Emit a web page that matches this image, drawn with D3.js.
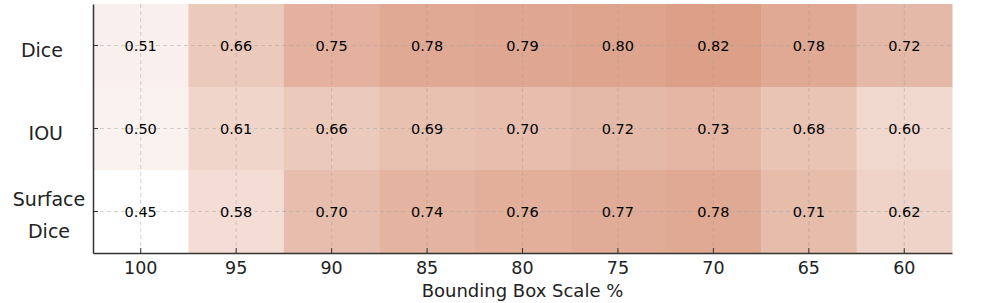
<!DOCTYPE html>
<html>
<head>
<meta charset="utf-8">
<script src="https://cdn.jsdelivr.net/npm/d3@7"></script>
<style>
  body { margin: 0; background: #fff; }
  text { font-family: "DejaVu Sans", sans-serif; }
</style>
</head>
<body>
<svg id="chart" width="996" height="303"></svg>
<script>
// data
const scales = ["100", "95", "90", "85", "80", "75", "70", "65", "60"];
const metrics = ["Dice", "IOU", "Surface Dice"];
const dice = [0.51, 0.66, 0.75, 0.78, 0.79, 0.80, 0.82, 0.78, 0.72];
const iou = [0.50, 0.61, 0.66, 0.69, 0.70, 0.72, 0.73, 0.68, 0.60];
const surfaceDice = [0.45, 0.58, 0.70, 0.74, 0.76, 0.77, 0.78, 0.71, 0.62];
const rows = [dice, iou, surfaceDice];

const svg = d3.select("#chart");
const plotL = 93, plotR = 952, plotT = 4, plotB = 253;

const x = d3.scaleBand().domain(scales).range([plotL, plotR]);
const y = d3.scaleBand().domain(metrics).range([plotT, plotB]);

const allVals = rows.flat();
const color = d3.scaleLinear()
  .domain([d3.min(allVals), d3.max(allVals)])
  .range(["#ffffff", "#dc9f87"]);

const cells = [];
rows.forEach((vals, i) => {
  vals.forEach((v, j) => cells.push({ metric: metrics[i], scale: scales[j], value: v }));
});

// heatmap cells
svg.append("g")
  .selectAll("rect")
  .data(cells)
  .join("rect")
  .attr("x", d => x(d.scale))
  .attr("y", d => y(d.metric))
  .attr("width", x.bandwidth() + 0.5)
  .attr("height", y.bandwidth() + 0.5)
  .attr("fill", d => color(d.value));

// dashed grid on top
const grid = svg.append("g")
  .attr("stroke", "#a0a0a0")
  .attr("stroke-opacity", 0.45)
  .attr("stroke-width", 1)
  .attr("stroke-dasharray", "4,3");
grid.selectAll("line.v")
  .data(scales)
  .join("line")
  .attr("class", "v")
  .attr("x1", d => x(d) + x.bandwidth() / 2)
  .attr("x2", d => x(d) + x.bandwidth() / 2)
  .attr("y1", plotT)
  .attr("y2", plotB);
grid.selectAll("line.h")
  .data(metrics)
  .join("line")
  .attr("class", "h")
  .attr("x1", plotL)
  .attr("x2", plotR)
  .attr("y1", d => y(d) + y.bandwidth() / 2)
  .attr("y2", d => y(d) + y.bandwidth() / 2);

// value annotations
svg.append("g")
  .selectAll("text")
  .data(cells)
  .join("text")
  .attr("x", d => x(d.scale) + x.bandwidth() / 2)
  .attr("y", d => y(d.metric) + y.bandwidth() / 2)
  .attr("dy", "0.36em")
  .attr("text-anchor", "middle")
  .attr("font-size", 14.5)
  .attr("fill", "#000")
  .text(d => d.value.toFixed(2));

// axes
const xAxis = svg.append("g")
  .attr("transform", `translate(0,${plotB})`)
  .call(d3.axisBottom(x).tickSizeInner(-5).tickSizeOuter(0).tickPadding(9));
const yAxis = svg.append("g")
  .attr("transform", `translate(${plotL},0)`)
  .call(d3.axisLeft(y).tickSizeInner(-5).tickSizeOuter(0).tickFormat(""));

[xAxis, yAxis].forEach(a => {
  a.select(".domain").attr("stroke", "#333").attr("stroke-width", 1.5);
  a.selectAll(".tick line").attr("stroke", "#333").attr("stroke-width", 1);
});
xAxis.selectAll(".tick text")
  .attr("font-size", 17.5)
  .attr("fill", "#222")
  .style("font-family", "DejaVu Sans");

// y labels (multi-line ones split on space)
yAxis.selectAll(".tick").each(function(d) {
  const words = d.split(" ");
  const g = d3.select(this);
  if (words.length === 1) {
    g.append("text")
      .attr("x", -30)
      .attr("y", 5)
      .attr("dy", "0.36em")
      .attr("text-anchor", "end")
      .attr("font-size", 19)
      .attr("fill", "#222")
      .style("font-family", "DejaVu Sans")
      .text(d);
  } else {
    words.forEach((w, k) => {
      g.append("text")
        .attr("x", -44)
        .attr("y", -12 + k * 32)
        .attr("dy", "0.36em")
        .attr("text-anchor", "middle")
        .attr("font-size", 19)
        .attr("fill", "#222")
        .style("font-family", "DejaVu Sans")
        .text(w);
    });
  }
});

// x axis title
svg.append("text")
  .attr("x", (plotL + plotR) / 2)
  .attr("y", 297)
  .attr("text-anchor", "middle")
  .attr("font-size", 18)
  .attr("fill", "#222")
  .text("Bounding Box Scale %");
</script>
</body>
</html>
